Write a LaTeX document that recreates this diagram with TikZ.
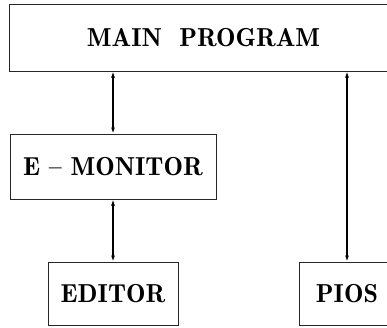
\documentclass[tikz,border=0pt]{standalone}
\usetikzlibrary{arrows.meta}
\begin{document}
\begin{tikzpicture}[x=1pt,y=-1pt,
  box/.style={draw=black!85,line width=1pt,inner sep=0pt,font=\fontsize{26}{30}\fontseries{b}\selectfont},
  link/.style={line width=1.4pt,{Latex[length=6pt,width=4pt]}-{Latex[length=6pt,width=4pt]}}]
\useasboundingbox (0,0) rectangle (387,327);
\node[box,minimum width=389pt,minimum height=67pt] (main) at (203.5,37.5) {MAIN\ \ PROGRAM};
\node[box,minimum width=206pt,minimum height=65pt] (emon) at (113,166.5) {E -- MONITOR};
\node[box,minimum width=130pt,minimum height=63pt] (editor) at (113,293.5) {EDITOR};
\node[box,minimum width=96pt,minimum height=63pt] (pios) at (347,293.5) {PIOS};
\draw[link] (main.south -| emon.north) -- (emon.north);
\draw[link] (emon.south) -- (editor.north);
\draw[link] (main.south -| pios.north) -- (pios.north);
\end{tikzpicture}
\end{document}
